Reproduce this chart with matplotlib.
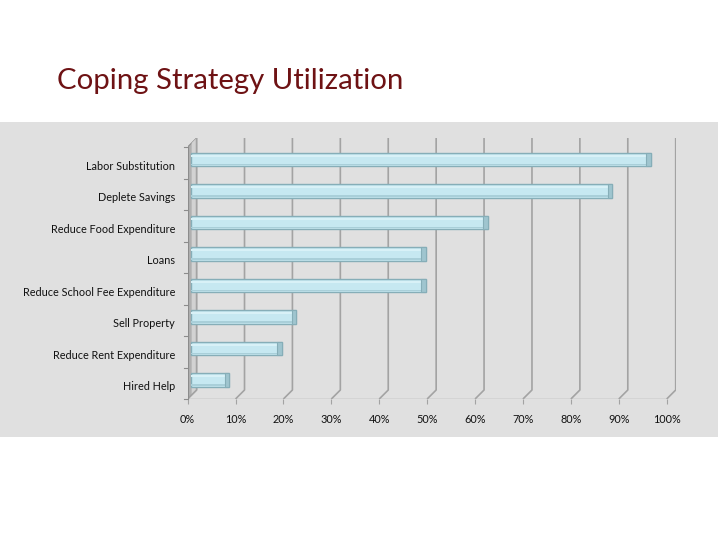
import matplotlib
matplotlib.use("Agg")
import matplotlib.pyplot as plt
from matplotlib.patches import Rectangle, Polygon

categories = ["Labor Substitution", "Deplete Savings", "Reduce Food Expenditure", "Loans",
              "Reduce School Fee Expenditure", "Sell Property", "Reduce Rent Expenditure", "Hired Help"]
values = [96, 88, 62, 49, 49, 22, 19, 8]
xticks = [0, 10, 20, 30, 40, 50, 60, 70, 80, 90, 100]
xticklabels = [f"{t}%" for t in xticks]
title = "Coping Strategy Utilization"

W, H = 720, 540
fig = plt.figure(figsize=(7.2, 5.4), dpi=100)
fig.patch.set_facecolor("white")

# grey panel
fig.patches.append(Rectangle((0, 1 - 437 / H), 718 / W, (437 - 122) / H,
                             transform=fig.transFigure, facecolor="#E0E0E0",
                             edgecolor="none", zorder=-5))

fig.text(57 / W, 1 - 81 / H, title, fontsize=21.2, color="#6E1214", fontweight="normal",
         family=["Lato", "DejaVu Sans"], va="center", ha="left")

# axes geometry (pixels)
x0, x100 = 187.6, 666.7
ybot, ytop = 399.0, 138.0
depth = 9.0
ppu = (x100 - x0) / 100.0
dx = depth / ppu
n = len(categories)
ppc = (ybot - ytop - depth) / n
dy = depth / ppc

ax = fig.add_axes([x0 / W, 1 - ybot / H, (x100 + depth - x0) / W, (ybot - ytop) / H])
ax.set_facecolor("none")
ax.set_zorder(2)
ax.set_xlim(0, 100 + dx)
ax.set_ylim(n - 0.5, -0.5 - dy)
for s in ax.spines.values():
    s.set_visible(False)

grid_c = "#A3A3A3"
# left wall
wall = Polygon([(0, n - 0.5), (0, -0.5), (dx, -0.5 - dy), (dx, n - 0.5 - dy)],
               closed=True, facecolor="#B0B0B0", edgecolor="#8C8C8C", lw=0.8, zorder=1)
ax.add_patch(wall)
wall2 = Polygon([(dx * 0.45, n - 0.5 - dy * 0.45), (dx * 0.45, -0.5 - dy * 0.45),
                 (dx, -0.5 - dy), (dx, n - 0.5 - dy)],
                closed=True, facecolor="#D2D2D2", edgecolor="none", zorder=1)
ax.add_patch(wall2)

# gridlines (3D style)
for t in xticks:
    ax.plot([t, t + dx, t + dx], [n - 0.5, n - 0.5 - dy, -0.5 - dy],
            color=grid_c, lw=1.2, zorder=1, solid_capstyle="butt")
# floor front line
ax.plot([0, 100], [n - 0.5, n - 0.5], color=grid_c, lw=1.0, zorder=2)
ax.plot([0, 0], [n - 0.5, -0.5], color="#8C8C8C", lw=0.8, zorder=2)

# bars at mid-depth
bh = 0.42
ox, oy = dx * 0.35, -dy * 0.35
for i, v in enumerate(values):
    ax.barh(i + oy, v, left=ox, height=bh, color="#C6E8F1", edgecolor="#86AEB8",
            linewidth=1.0, zorder=3)
    ax.barh(i + oy - bh * 0.30, v, left=ox, height=bh * 0.14, color="#D8F1F7",
            edgecolor="none", zorder=4)
    ax.barh(i + oy + bh * 0.37, v, left=ox, height=bh * 0.10, color="#A9CFD9",
            edgecolor="none", zorder=4)
    ax.barh(i + oy, 0.9, left=ox + v - 0.9, height=bh, color="#9FC5CF",
            edgecolor="#86AEB8", linewidth=0.8, zorder=5)

lab_font = ["Lato", "DejaVu Sans"]
ax.set_xticks(xticks)
ax.set_xticklabels(xticklabels, fontsize=7.8, family=lab_font, color="#111111")
ax.tick_params(axis="x", direction="out", length=3.5, width=0.8, color=grid_c, pad=7)

ax.set_yticks([i + 0.08 for i in range(n)])
ax.set_yticklabels(categories, fontsize=7.8, family=lab_font, color="#111111")
ax.tick_params(axis="y", length=0, pad=9)
# category separator ticks on front left axis
for b in range(n + 1):
    yb = b - 0.5
    ax.plot([-0.8, 0], [yb, yb], color="#8C8C8C", lw=0.8, zorder=2, clip_on=False)

fig.savefig("out.png", dpi=100, facecolor=fig.get_facecolor())
